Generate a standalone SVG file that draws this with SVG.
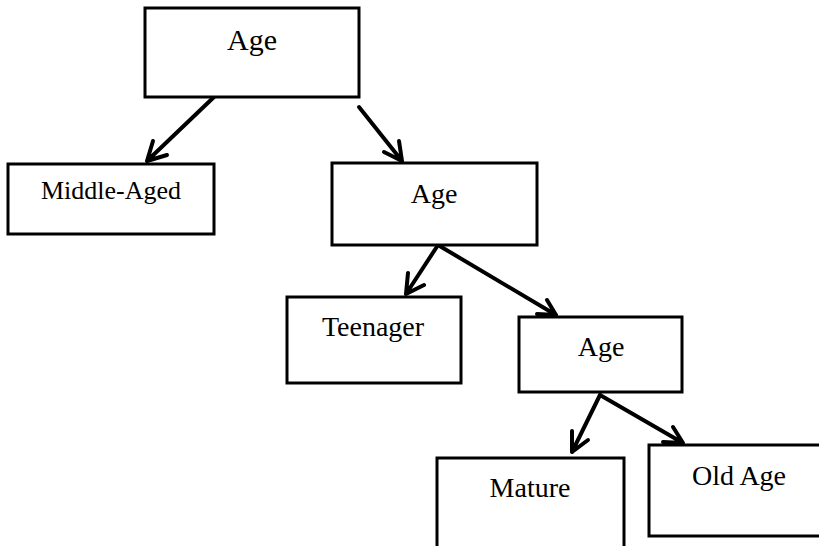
<svg xmlns="http://www.w3.org/2000/svg" width="819" height="546" viewBox="0 0 819 546">
<style>
.box{fill:#fff;stroke:#000;stroke-width:3}
.t{font-family:"Liberation Serif","Times New Roman",serif;font-size:28px;fill:#000;text-anchor:middle}
.c{fill:none;stroke:#000;stroke-width:4;stroke-linecap:round;stroke-linejoin:round}
</style>
<rect width="819" height="546" fill="#fff"/>
<g id="connectors">
<path class="c" d="M214,97 L147,161 M153,141 L147,161 L167,155"/>
<path class="c" d="M359,107 L402,161 M384,152 L402,161 L399,141"/>
<path class="c" d="M438,245 L406,294 M408,273 L406,294 L424,285"/>
<path class="c" d="M438,245 L556,315 M537,314 L556,315 L547,300"/>
<path class="c" d="M600,395 L572,452 M572,431 L572,452 L588,440"/>
<path class="c" d="M600,395 L683,443 M663,442 L683,443 L673,427"/>
</g>
<g id="n1"><rect class="box" x="145" y="8" width="214" height="89"/><text class="t" x="252" y="50" style="font-size:30px">Age</text></g>
<g id="n2"><rect class="box" x="8" y="164" width="206" height="70"/><text class="t" x="111" y="199" style="font-size:26px">Middle-Aged</text></g>
<g id="n3"><rect class="box" x="332" y="163" width="205" height="82"/><text class="t" x="434" y="203">Age</text></g>
<g id="n4"><rect class="box" x="287" y="297" width="174" height="86"/><text class="t" x="373" y="336">Teenager</text></g>
<g id="n5"><rect class="box" x="519" y="317" width="163" height="75"/><text class="t" x="601" y="356">Age</text></g>
<g id="n6"><rect class="box" x="437" y="458" width="187" height="100"/><text class="t" x="530" y="497">Mature</text></g>
<g id="n7"><rect class="box" x="649" y="445" width="180" height="91"/><text class="t" x="739" y="485">Old Age</text></g>
</svg>
